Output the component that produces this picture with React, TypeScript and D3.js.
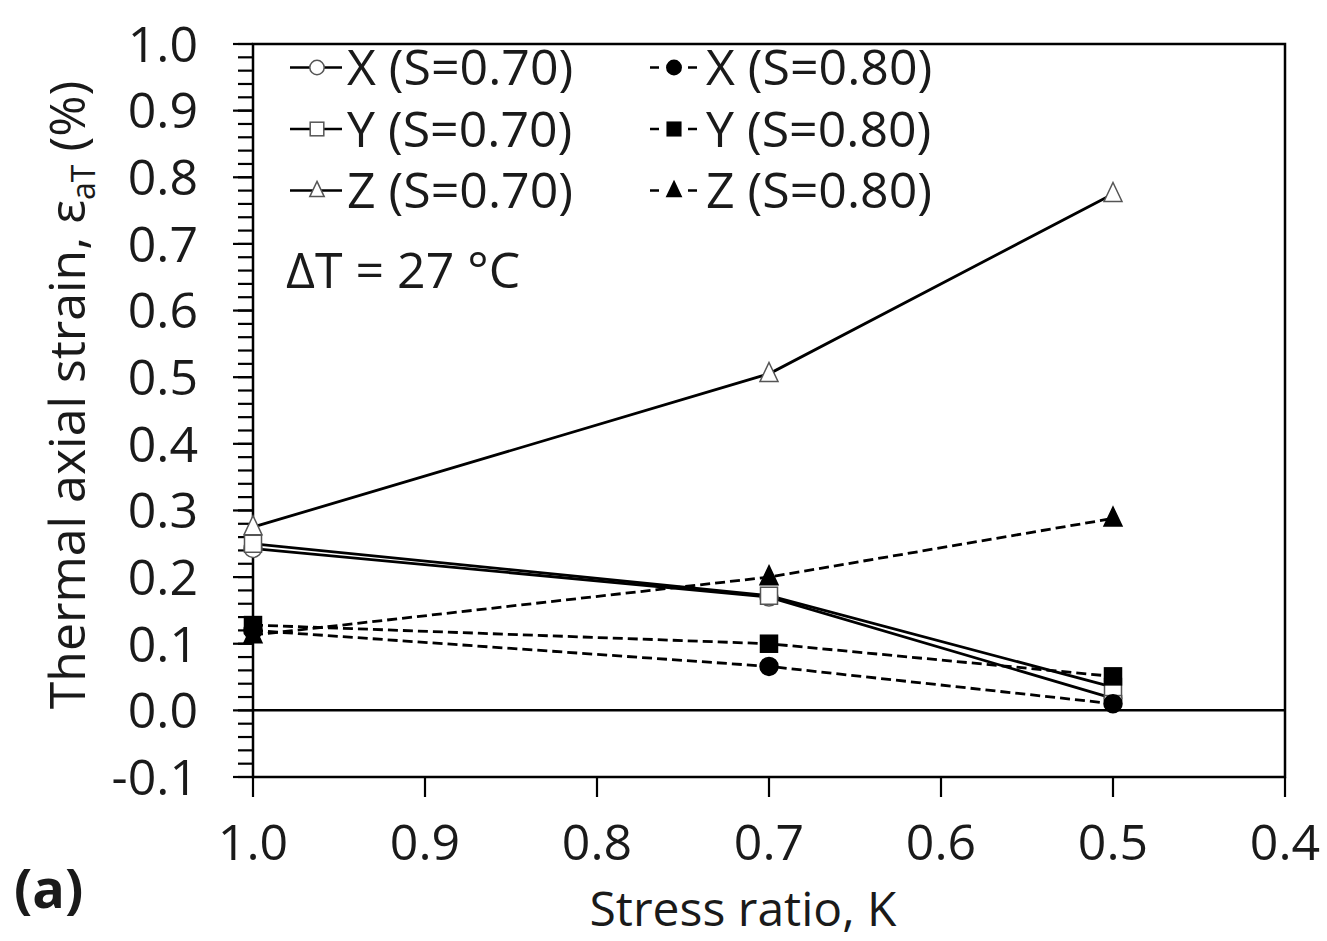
import React from "react";
import * as d3 from "d3";

const stressRatio = [1.0, 0.7, 0.5];
const xS070 = [0.243, 0.17, 0.018];
const yS070 = [0.25, 0.172, 0.035];
const zS070 = [0.275, 0.505, 0.775];
const xS080 = [0.12, 0.066, 0.01];
const yS080 = [0.128, 0.1, 0.051];
const zS080 = [0.113, 0.2, 0.288];

const xTicks = [1.0, 0.9, 0.8, 0.7, 0.6, 0.5, 0.4];
const yTicks = [-0.1, 0.0, 0.1, 0.2, 0.3, 0.4, 0.5, 0.6, 0.7, 0.8, 0.9, 1.0];

type Series = { label: string; values: number[]; shape: "circle" | "square" | "triangle"; filled: boolean; dashed: boolean };
const series: Series[] = [
  { label: "X (S=0.70)", values: xS070, shape: "circle", filled: false, dashed: false },
  { label: "Y (S=0.70)", values: yS070, shape: "square", filled: false, dashed: false },
  { label: "Z (S=0.70)", values: zS070, shape: "triangle", filled: false, dashed: false },
  { label: "X (S=0.80)", values: xS080, shape: "circle", filled: true, dashed: true },
  { label: "Y (S=0.80)", values: yS080, shape: "square", filled: true, dashed: true },
  { label: "Z (S=0.80)", values: zS080, shape: "triangle", filled: true, dashed: true },
];

const FONT = "'Open Sans', sans-serif";
const FS = 50;
const TXT = "#1a1a1a";

function Marker({ shape, filled, cx, cy, scale = 1 }: { shape: string; filled: boolean; cx: number; cy: number; scale?: number }) {
  const fill = filled ? "#000" : "#fff";
  const stroke = filled ? "#000" : "#555";
  const sw = 1.5;
  if (shape === "circle") return <circle cx={cx} cy={cy} r={9 * scale} fill={fill} stroke={stroke} strokeWidth={sw} />;
  if (shape === "square") {
    const s = 17 * scale;
    return <rect x={cx - s / 2} y={cy - s / 2} width={s} height={s} fill={fill} stroke={stroke} strokeWidth={sw} />;
  }
  const h = 19 * scale;
  const w = 18 * scale;
  const p = `M${cx},${cy - h * 0.6} L${cx + w / 2},${cy + h * 0.4} L${cx - w / 2},${cy + h * 0.4} Z`;
  return <path d={p} fill={fill} stroke={stroke} strokeWidth={sw} />;
}

export default function App() {
  const left = 253, right = 1285, top = 44, bottom = 777;
  const x = d3.scaleLinear().domain([1.0, 0.4]).range([left, right]);
  const y = d3.scaleLinear().domain([-0.1, 1.0]).range([bottom, top]);
  const line = d3.line<number>().x((_, i) => x(stressRatio[i])).y((d) => y(d));
  const minorTicks = d3.range(-0.1, 1.0001, 0.02).map((v) => Math.round(v * 100) / 100);

  return (
    <svg width={1327} height={941} style={{ position: "absolute", left: 0, top: 0, display: "block" }}>
      <rect width={1327} height={941} fill="#fff" />
      {minorTicks.map((t) => (
        <line key={"m" + t} x1={left - 15} x2={left} y1={y(t)} y2={y(t)} stroke="#000" strokeWidth={2.2} />
      ))}
      {yTicks.map((t) => (
        <g key={"y" + t}>
          <line x1={left - 20} x2={left} y1={y(t)} y2={y(t)} stroke="#000" strokeWidth={2.2} />
          <text x={198} y={y(t)} dy="0.357em" textAnchor="end" fontSize={FS} fontFamily={FONT} fill={TXT}>
            {t.toFixed(1)}
          </text>
        </g>
      ))}
      {xTicks.map((t) => (
        <g key={"x" + t}>
          <line x1={x(t)} x2={x(t)} y1={bottom} y2={bottom + 20} stroke="#000" strokeWidth={2.2} />
          <text x={x(t)} y={860} textAnchor="middle" fontSize={FS} fontFamily={FONT} fill={TXT}>
            {t.toFixed(1)}
          </text>
        </g>
      ))}
      <rect x={left} y={top} width={right - left} height={bottom - top} fill="none" stroke="#000" strokeWidth={2.5} />
      <line x1={left} x2={right} y1={y(0)} y2={y(0)} stroke="#000" strokeWidth={2.5} />

      {series.map((s) => (
        <path key={"l" + s.label} d={line(s.values) || ""} fill="none" stroke="#000" strokeWidth={2.8} strokeDasharray={s.dashed ? "10,5" : undefined} />
      ))}
      {series.map((s) =>
        s.values.map((v, i) => (
          <Marker key={s.label + i} shape={s.shape} filled={s.filled} cx={x(stressRatio[i])} cy={y(v)} />
        ))
      )}

      {series.map((s, i) => {
        const col = i < 3 ? 0 : 1;
        const row = i % 3;
        const lx = col === 0 ? 290 : 650;
        const baseline = 85 + row * 61.5;
        const ly = baseline - 17.5;
        return (
          <g key={"lg" + s.label}>
            {s.dashed ? (
              <>
                <line x1={lx} x2={lx + 9} y1={ly} y2={ly} stroke="#000" strokeWidth={2.5} />
                <line x1={lx + 38} x2={lx + 47} y1={ly} y2={ly} stroke="#000" strokeWidth={2.5} />
              </>
            ) : (
              <line x1={lx} x2={lx + 52} y1={ly} y2={ly} stroke="#000" strokeWidth={2.5} />
            )}
            <Marker shape={s.shape} filled={s.filled} cx={col === 0 ? lx + 27 : lx + 24} cy={ly} scale={0.8} />
            <text x={col === 0 ? 347 : 706} y={baseline} fontSize={FS} fontFamily={FONT} fill={TXT}>
              {s.label}
            </text>
          </g>
        );
      })}
      <text x={286} y={288} fontSize={FS} fontFamily={FONT} fill={TXT}>
        ΔT = 27 °C
      </text>

      <text x={743} y={926} textAnchor="middle" fontSize={48} fontFamily={FONT} fill={TXT}>
        Stress ratio, K
      </text>
      <text transform="translate(85,395) rotate(-90)" textAnchor="middle" fontSize={FS} fontFamily={FONT} fill={TXT}>
        Thermal axial strain, ε<tspan fontSize={32} dy={10}>aT</tspan>
        <tspan dy={-10}> (%)</tspan>
      </text>
      <text x={14} y={908} fontSize={54} fontWeight="bold" fontFamily={FONT} fill={TXT}>
        (a)
      </text>
    </svg>
  );
}
